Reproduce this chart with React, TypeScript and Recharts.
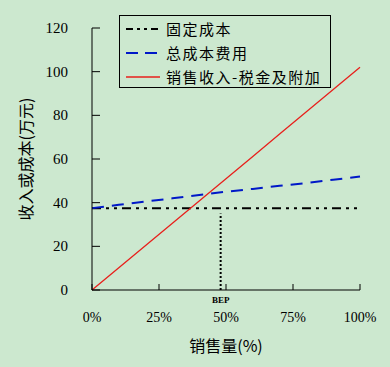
import {
  Label,
  Legend,
  Line,
  LineChart,
  ReferenceLine,
  XAxis,
  YAxis,
} from "recharts";

const BG = "#cce8cf";
const INK = "#000000";
const BLUE = "#0018c8";
const RED = "#e8201c";
const NUM_FONT = "'Liberation Serif', 'Noto Sans CJK SC', serif";
const CJK_FONT = "'Noto Sans CJK SC', sans-serif";

// sales volume (%) and the three cost / revenue curves (万元)
const salesPct = [0, 10, 20, 30, 40, 50, 60, 70, 80, 90, 100];
const fixedCost = [37.5, 37.5, 37.5, 37.5, 37.5, 37.5, 37.5, 37.5, 37.5, 37.5, 37.5];
const totalCost = [37.5, 39, 40.5, 42, 43.5, 45, 46.3, 47.7, 49, 50.5, 52];
const netRevenue = [0, 10.2, 20.4, 30.6, 40.8, 51, 61.2, 71.4, 81.6, 91.8, 102];

const bepPct = 48;
const bepTop = 35;

const xTicks = [0, 25, 50, 75, 100];
const yTicks = [0, 20, 40, 60, 80, 100, 120];

const seriesNames = {
  fixed: "固定成本",
  total: "总成本费用",
  revenue: "销售收入-税金及附加",
};

const rows = salesPct.map((x, i) => ({
  x,
  fixed: fixedCost[i],
  total: totalCost[i],
  revenue: netRevenue[i],
}));

type TickProps = { x?: number; y?: number; payload?: { value: number } };

function XTick({ x = 0, y = 0, payload }: TickProps) {
  const v = payload?.value ?? 0;
  if (v === bepPct) {
    return (
      <text
        x={x}
        y={y + 10}
        textAnchor="middle"
        dominantBaseline="central"
        fontFamily={NUM_FONT}
        fontWeight="bold"
        fontSize={9}
        fill={INK}
      >
        BEP
      </text>
    );
  }
  return (
    <g>
      <line x1={x} y1={y} x2={x} y2={y - 6} stroke={INK} />
      <text
        x={x}
        y={y + 27}
        textAnchor="middle"
        dominantBaseline="central"
        fontFamily={NUM_FONT}
        fontSize={14}
        fill={INK}
      >
        {`${v}%`}
      </text>
    </g>
  );
}

function YTick({ x = 0, y = 0, payload }: TickProps) {
  return (
    <g>
      <line x1={x} y1={y} x2={x + 8} y2={y} stroke={INK} />
      <text
        x={x - 24}
        y={y}
        textAnchor="end"
        dominantBaseline="central"
        fontFamily={NUM_FONT}
        fontSize={15}
        fill={INK}
      >
        {payload?.value}
      </text>
    </g>
  );
}

function LegendBox() {
  const items = [
    { name: seriesNames.fixed, color: INK, dash: "7 4 3 4 3 4", width: 2 },
    { name: seriesNames.total, color: BLUE, dash: "12 7", width: 2 },
    { name: seriesNames.revenue, color: RED, dash: undefined, width: 1.5 },
  ];
  return (
    <div
      style={{
        border: "1px solid #000",
        background: BG,
        width: 210,
        height: 71,
        boxSizing: "content-box",
        fontFamily: CJK_FONT,
        fontSize: 15,
        letterSpacing: 1.5,
        color: INK,
      }}
    >
      {items.map((it, i) => (
        <div
          key={it.name}
          style={{
            display: "flex",
            alignItems: "center",
            height: 24,
            marginTop: i === 0 ? 1 : 0,
          }}
        >
          <svg width={42} height={10} style={{ marginLeft: 4 }}>
            <line
              x1={2}
              y1={5}
              x2={36}
              y2={5}
              stroke={it.color}
              strokeWidth={it.width}
              strokeDasharray={it.dash}
            />
          </svg>
          <span style={{ lineHeight: "24px" }}>{it.name}</span>
        </div>
      ))}
    </div>
  );
}

export default function App() {
  return (
    <div
      style={{
        position: "fixed",
        left: 0,
        top: 0,
        width: 390,
        height: 367,
        background: BG,
      }}
    >
      <LineChart
        width={390}
        height={367}
        data={rows}
        margin={{ top: 28, right: 30, bottom: 47, left: 32 }}
      >
        <XAxis
          dataKey="x"
          type="number"
          domain={[0, 100]}
          ticks={[...xTicks, bepPct]}
          interval={0}
          tickLine={false}
          tickSize={0}
          tickMargin={0}
          tick={<XTick />}
          height={30}
          stroke={INK}
        >
          <Label
            content={({ viewBox }: any) => (
              <text
                x={viewBox.x + viewBox.width / 2}
                y={viewBox.y + 55}
                textAnchor="middle"
                dominantBaseline="central"
                fontFamily={CJK_FONT}
                fontSize={16}
                fill={INK}
              >
                销售量(%)
              </text>
            )}
          />
        </XAxis>
        <YAxis
          type="number"
          domain={[0, 120]}
          ticks={yTicks}
          interval={0}
          tickLine={false}
          tickSize={0}
          tickMargin={0}
          tick={<YTick />}
          width={60}
          stroke={INK}
        >
          <Label
            content={({ viewBox }: any) => {
              const cx = viewBox.x - 7;
              const cy = viewBox.y + viewBox.height / 2;
              return (
                <text
                  x={cx}
                  y={cy}
                  transform={`rotate(-90 ${cx} ${cy})`}
                  textAnchor="middle"
                  dominantBaseline="central"
                  fontFamily={CJK_FONT}
                  fontSize={16}
                  fill={INK}
                >
                  收入或成本(万元)
                </text>
              );
            }}
          />
        </YAxis>
        <Legend
          layout="horizontal"
          verticalAlign="middle"
          align="center"
          content={<LegendBox />}
          wrapperStyle={{ left: 119, top: 15, width: 212, height: 73 }}
        />
        <ReferenceLine
          segment={[
            { x: bepPct, y: 0 },
            { x: bepPct, y: bepTop },
          ]}
          stroke={INK}
          strokeWidth={2}
          strokeDasharray="2 2"
        />
        <Line
          dataKey="fixed"
          name={seriesNames.fixed}
          stroke={INK}
          strokeWidth={2}
          strokeDasharray="9 5 3 5 3 5"
          dot={false}
          isAnimationActive={false}
        />
        <Line
          dataKey="total"
          name={seriesNames.total}
          stroke={BLUE}
          strokeWidth={2}
          strokeDasharray="12 8"
          dot={false}
          isAnimationActive={false}
        />
        <Line
          dataKey="revenue"
          name={seriesNames.revenue}
          stroke={RED}
          strokeWidth={1.3}
          dot={false}
          isAnimationActive={false}
        />
      </LineChart>
    </div>
  );
}
